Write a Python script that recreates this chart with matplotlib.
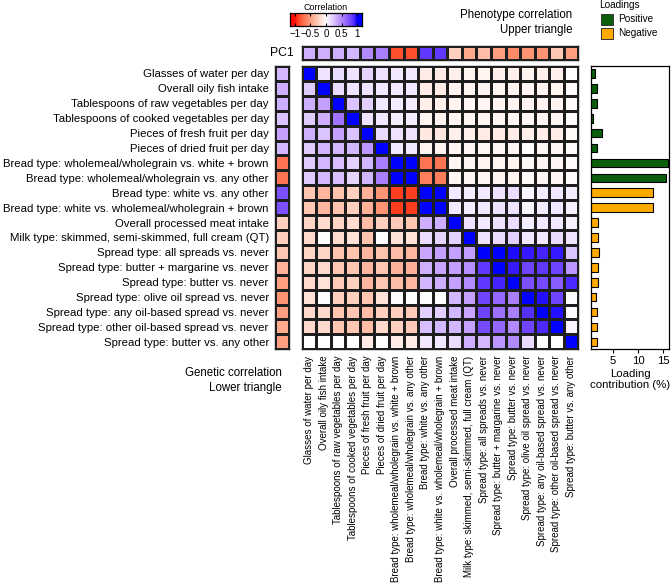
import numpy as np
import matplotlib
matplotlib.use("Agg")
import matplotlib.pyplot as plt
from matplotlib.colors import ListedColormap
from matplotlib.patches import Rectangle

plt.rcParams['font.family'] = ['Liberation Sans', 'DejaVu Sans']

# ---------------- data ----------------
traits = [
    "Glasses of water per day",
    "Overall oily fish intake",
    "Tablespoons of raw vegetables per day",
    "Tablespoons of cooked vegetables per day",
    "Pieces of fresh fruit per day",
    "Pieces of dried fruit per day",
    "Bread type: wholemeal/wholegrain vs. white + brown",
    "Bread type: wholemeal/wholegrain vs. any other",
    "Bread type: white vs. any other",
    "Bread type: white vs. wholemeal/wholegrain + brown",
    "Overall processed meat intake",
    "Milk type: skimmed, semi-skimmed, full cream (QT)",
    "Spread type: all spreads vs. never",
    "Spread type: butter + margarine vs. never",
    "Spread type: butter vs. never",
    "Spread type: olive oil spread vs. never",
    "Spread type: any oil-based spread vs. never",
    "Spread type: other oil-based spread vs. never",
    "Spread type: butter vs. any other",
]

# phenotype correlation (upper triangle): row i, columns i+1 .. 18
phenotype_upper = [
    [0.12, 0.15, 0.12, 0.18, 0.12, 0.10, 0.10, -0.10, -0.10, -0.08, -0.06, -0.06, -0.08, -0.08, -0.06, -0.08, -0.08, 0.0],
    [0.15, 0.12, 0.12, 0.10, 0.10, 0.10, -0.10, -0.10, -0.06, -0.06, -0.05, -0.06, -0.06, -0.05, -0.06, -0.06, -0.02],
    [0.25, 0.20, 0.10, 0.08, 0.08, -0.08, -0.08, -0.06, -0.05, -0.05, -0.06, -0.06, -0.05, -0.06, -0.06, -0.02],
    [0.12, 0.10, 0.08, 0.08, -0.06, -0.06, -0.05, -0.05, -0.05, -0.05, -0.05, -0.04, -0.05, -0.05, -0.02],
    [0.15, 0.12, 0.12, -0.12, -0.12, -0.08, -0.08, -0.10, -0.10, -0.10, -0.08, -0.10, -0.10, -0.03],
    [0.10, 0.10, -0.06, -0.06, -0.05, -0.05, -0.04, -0.05, -0.05, 0.0, -0.04, -0.05, -0.02],
    [1.0, -0.70, -0.70, -0.05, -0.05, -0.06, -0.06, -0.06, -0.03, -0.05, -0.05, -0.02],
    [-0.65, -0.65, -0.05, -0.05, -0.05, -0.06, -0.06, -0.03, -0.05, -0.05, -0.02],
    [1.0, 0.10, 0.08, 0.10, 0.12, 0.15, 0.05, 0.08, 0.10, 0.08],
    [0.10, 0.08, 0.10, 0.12, 0.12, 0.04, 0.08, 0.10, 0.06],
    [0.12, 0.10, 0.12, 0.15, 0.08, 0.10, 0.10, 0.06],
    [0.12, 0.15, 0.20, 0.10, 0.10, 0.15, 0.12],
    [1.0, 0.98, 0.95, 0.92, 0.95, 0.25],
    [0.95, 0.80, 0.85, 0.80, 0.45],
    [0.75, 0.78, 0.70, 0.90],
    [0.97, 0.80, 0.02],
    [0.97, 0.02],
    [0.05],
]

# genetic correlation (lower triangle): row i, columns 0 .. i-1
genetic_lower = [
    [],
    [0.22],
    [0.35, 0.40],
    [0.22, 0.35, 0.60],
    [0.35, 0.25, 0.40, 0.25],
    [0.22, 0.32, 0.30, 0.30, 0.45],
    [0.22, 0.30, 0.28, 0.20, 0.32, 0.55],
    [0.22, 0.30, 0.28, 0.18, 0.32, 0.55, 1.0],
    [-0.30, -0.38, -0.32, -0.25, -0.40, -0.55, -0.90, -0.90],
    [-0.30, -0.38, -0.32, -0.25, -0.40, -0.55, -0.90, -0.90, 1.0],
    [-0.22, -0.18, -0.22, -0.18, -0.35, -0.25, -0.28, -0.30, 0.35, 0.35],
    [-0.20, 0.0, -0.18, -0.15, -0.32, 0.0, -0.15, -0.15, 0.15, 0.18, 0.20],
    [-0.22, -0.22, -0.32, -0.32, -0.38, -0.32, -0.35, -0.38, 0.38, 0.40, 0.40, 0.42],
    [-0.22, -0.20, -0.30, -0.30, -0.38, -0.30, -0.40, -0.42, 0.35, 0.38, 0.42, 0.48, 0.85],
    [-0.20, -0.15, -0.28, -0.25, -0.38, -0.30, -0.35, -0.38, 0.32, 0.35, 0.40, 0.50, 0.85, 0.92],
    [-0.15, 0.0, -0.25, -0.25, -0.30, -0.15, 0.0, 0.0, 0.0, 0.0, 0.30, 0.40, 0.80, 0.65, 0.55],
    [-0.20, -0.20, -0.30, -0.30, -0.35, -0.25, -0.25, -0.28, 0.20, 0.20, 0.30, 0.38, 0.80, 0.62, 0.55, 0.88],
    [-0.20, -0.20, -0.30, -0.30, -0.35, -0.20, -0.25, -0.28, 0.28, 0.30, 0.30, 0.40, 0.78, 0.65, 0.50, 0.80, 0.90],
    [0.0, 0.0, 0.0, 0.0, -0.10, 0.0, -0.10, -0.10, 0.10, 0.10, 0.15, 0.35, 0.30, 0.45, 0.50, 0.15, 0.0, 0.0],
]

# PC1 correlations: top row (phenotype) and left column (genetic)
pc1_top = [0.35, 0.35, 0.35, 0.30, 0.50, 0.55, -0.85, -0.85, 0.85, 0.85,
           -0.25, -0.45, -0.35, -0.50, -0.60, -0.55, -0.55, -0.30, -0.50]
pc1_left = [0.30, 0.35, 0.35, 0.25, 0.40, 0.30, -0.70, -0.70, 0.75, 0.75,
            -0.25, -0.25, -0.30, -0.40, -0.50, -0.55, -0.50, -0.45, -0.50]

# loading contribution (%)
loadings = [1.3, 1.8, 1.8, 1.0, 2.7, 1.8, 15.9, 15.5, 12.9, 12.9,
            1.9, 1.9, 2.2, 2.0, 2.0, 1.6, 1.7, 1.7, 1.7]
loading_sign = ["Positive"] * 8 + ["Negative"] * 11

cbar_ticks = [-1, -0.5, 0, 0.5, 1]
cbar_ticklabels = ["\u22121", "\u22120.5", "0", "0.5", "1"]
bar_ticks = [5, 10, 15]

# ---------------- colormap (Lab interpolation red-white-blue) ----------------
WHITE_REF = np.array([0.95047, 1.0, 1.08883])
M_RGB2XYZ = np.array([[0.4124564, 0.3575761, 0.1804375],
                      [0.2126729, 0.7151522, 0.0721750],
                      [0.0193339, 0.1191920, 0.9503041]])
M_XYZ2RGB = np.linalg.inv(M_RGB2XYZ)
D = 6 / 29


def rgb2lab(rgb):
    c = np.asarray(rgb, float)
    lin = np.where(c <= 0.04045, c / 12.92, ((c + 0.055) / 1.055) ** 2.4)
    xyz = M_RGB2XYZ @ lin / WHITE_REF
    f = np.where(xyz > D ** 3, np.cbrt(xyz), xyz / (3 * D ** 2) + 4 / 29)
    return np.array([116 * f[1] - 16, 500 * (f[0] - f[1]), 200 * (f[1] - f[2])])


def lab2rgb(lab):
    L, a, b = lab
    fy = (L + 16) / 116
    f = np.array([fy + a / 500, fy, fy - b / 200])
    xyz = np.where(f > D, f ** 3, 3 * D ** 2 * (f - 4 / 29)) * WHITE_REF
    lin = np.clip(M_XYZ2RGB @ xyz, 0, 1)
    c = np.where(lin <= 0.0031308, 12.92 * lin, 1.055 * lin ** (1 / 2.4) - 0.055)
    return np.clip(c, 0, 1)


lab_red = rgb2lab([1.0, 0.05, 0.0])
lab_white = rgb2lab([1.0, 1.0, 1.0])
lab_blue = rgb2lab([0.0, 0.0, 1.0])
cols = []
for v in np.linspace(-1, 1, 256):
    if v < 0:
        lab = lab_white + (-v) * (lab_red - lab_white)
    else:
        lab = lab_white + v * (lab_blue - lab_white)
    cols.append(lab2rgb(lab))
cmap = ListedColormap(cols)

# ---------------- build matrix ----------------
n = len(traits)
M = np.eye(n)
for i in range(n):
    for k, v in enumerate(phenotype_upper[i] if i < len(phenotype_upper) else []):
        M[i, i + 1 + k] = v
    for j, v in enumerate(genetic_lower[i]):
        M[i, j] = v

# ---------------- figure ----------------
W, H = 672, 588
fig = plt.figure(figsize=(W / 100, H / 100), dpi=100)


def rect(x0, y0, x1, y1):
    return [x0 / W, 1 - y1 / H, (x1 - x0) / W, (y1 - y0) / H]


EDGE = '#1e1e1e'
LW = 0.9
FS = 8.2
FS_COL = 7.0

# main heatmap
ax = fig.add_axes(rect(301.7, 66, 578.3, 349.3))
ax.pcolormesh(M, cmap=cmap, vmin=-1, vmax=1, edgecolors=EDGE, linewidth=LW)
ax.set_xlim(0, n)
ax.set_ylim(n, 0)
ax.set_yticks([])
ax.set_xticks(np.arange(n) + 0.5)
ax.set_xticklabels(traits, rotation=90, fontsize=FS_COL, va='top', ha='center')
ax.tick_params(axis='x', length=0, pad=4.5)
for s in ax.spines.values():
    s.set_linewidth(1.0)
    s.set_color(EDGE)

# PC1 top row
axt = fig.add_axes(rect(301.7, 46, 578.3, 59.5))
axt.pcolormesh(np.array([pc1_top]), cmap=cmap, vmin=-1, vmax=1, edgecolors=EDGE, linewidth=LW)
axt.set_xlim(0, n)
axt.set_ylim(1, 0)
axt.set_xticks([])
axt.set_yticks([])
for s in axt.spines.values():
    s.set_linewidth(1.0)
    s.set_color(EDGE)

# PC1 left column
axl = fig.add_axes(rect(275, 66, 289, 349.3))
axl.pcolormesh(np.array([pc1_left]).T, cmap=cmap, vmin=-1, vmax=1, edgecolors=EDGE, linewidth=LW)
axl.set_xlim(0, 1)
axl.set_ylim(n, 0)
axl.set_xticks([])
axl.set_yticks(np.arange(n) + 0.5)
axl.set_yticklabels(traits, fontsize=FS)
axl.tick_params(axis='y', length=0, pad=4.5)
for s in axl.spines.values():
    s.set_linewidth(1.0)
    s.set_color(EDGE)

# loadings bar chart
axb = fig.add_axes(rect(591, 66, 669, 349.3))
bar_colors = ['#0b5e0b' if s == "Positive" else '#ffaa00' for s in loading_sign]
axb.barh(np.arange(n) + 0.5, loadings, height=0.58, color=bar_colors,
         edgecolor='black', linewidth=0.8)
axb.set_xlim(0.55, 16.2)
axb.set_ylim(n, 0)
axb.set_yticks([])
axb.set_xticks(bar_ticks)
axb.set_xticklabels([str(t) for t in bar_ticks], fontsize=FS)
axb.tick_params(axis='x', length=3, width=0.8, pad=2)
for s in axb.spines.values():
    s.set_linewidth(0.9)
axb.set_xlabel("Loading\ncontribution (%)", fontsize=FS, labelpad=2, linespacing=1.1)

# colorbar
axc = fig.add_axes(rect(290, 13.3, 362, 26))
grad = np.linspace(-1.16, 1.16, 300)
axc.imshow(np.clip(grad, -1, 1)[None, :], cmap=cmap, vmin=-1, vmax=1, aspect='auto',
           extent=[-1.16, 1.16, 0, 1])
axc.set_xlim(-1.16, 1.16)
axc.set_ylim(0, 1)
axc.set_yticks([])
axc.set_xticks(cbar_ticks)
axc.set_xticklabels(cbar_ticklabels, fontsize=7)
axc.tick_params(axis='x', direction='in', length=2.5, width=0.8, pad=2.5, top=True)
axc.set_title("Correlation", fontsize=6.5, pad=2.5)
for s in axc.spines.values():
    s.set_linewidth(0.9)

# annotations overlay in pixel coordinates
ov = fig.add_axes([0, 0, 1, 1], zorder=-1)
ov.set_xlim(0, W)
ov.set_ylim(H, 0)
ov.axis('off')
ov.text(282, 53, "PC1", fontsize=8.8, ha='center', va='center')
ov.text(572, 15, "Phenotype correlation", fontsize=8.3, ha='right', va='center')
ov.text(572, 29.5, "Upper triangle", fontsize=8.3, ha='right', va='center')
ov.text(282, 373, "Genetic correlation", fontsize=8.3, ha='right', va='center')
ov.text(282, 388, "Lower triangle", fontsize=8.3, ha='right', va='center')

ov2 = fig.add_axes([0, 0, 1, 1], zorder=5)
ov2.set_xlim(0, W)
ov2.set_ylim(H, 0)
ov2.axis('off')
ov2.text(599, 5, "Loadings", fontsize=7.2, ha='left', va='center')
ov2.add_patch(Rectangle((600.5, 13.5), 12, 11.5, facecolor='#0b5e0b', edgecolor='#333333', lw=0.7))
ov2.add_patch(Rectangle((600.5, 27.5), 12, 11.5, facecolor='#ffaa00', edgecolor='#333333', lw=0.7))
ov2.text(618, 19.5, "Positive", fontsize=7.2, ha='left', va='center')
ov2.text(618, 33, "Negative", fontsize=7.2, ha='left', va='center')

fig.savefig("out.png", dpi=100)
